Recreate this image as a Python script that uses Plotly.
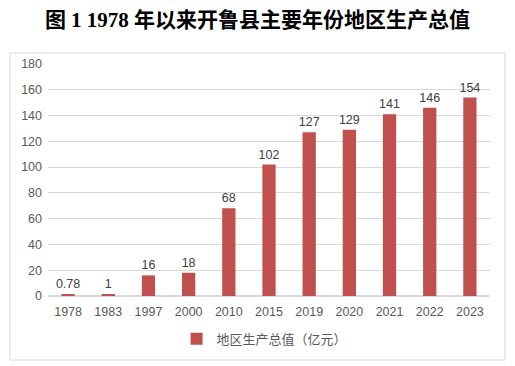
import plotly.graph_objects as go

years = ["1978", "1983", "1997", "2000", "2010", "2015", "2019", "2020", "2021", "2022", "2023"]
gdp = [0.78, 1, 16, 18, 68, 102, 127, 129, 141, 146, 154]
labels = ["0.78", "1", "16", "18", "68", "102", "127", "129", "141", "146", "154"]
series_name = "地区生产总值（亿元）"
title = "图 1 1978 年以来开鲁县主要年份地区生产总值"

fig = go.Figure()
fig.add_trace(go.Bar(
    x=years, y=gdp, name=series_name,
    marker=dict(color="#C0504D", line=dict(width=0)),
    text=labels, textposition="outside", cliponaxis=False, constraintext="none",
    textfont=dict(size=12.5, color="#404040", family="Liberation Sans, Noto Sans CJK SC"),
    width=0.33,
))

fig.update_layout(
    width=515, height=366,
    margin=dict(l=48, r=25, t=64, b=70, autoexpand=False),
    paper_bgcolor="white", plot_bgcolor="white",
    font=dict(family="Liberation Sans, Noto Sans CJK SC", color="#595959", size=12),
    title=dict(text="<b>" + title + "</b>", x=0.5, xanchor="center", y=0.945, yanchor="middle",
               automargin=False,
               font=dict(family="Liberation Serif, Noto Sans CJK SC", size=21, color="#000000")),
    uniformtext=dict(minsize=12, mode="show"),
    showlegend=True,
    legend=dict(orientation="h", x=0.49, xanchor="center", y=-0.12, yanchor="top",
                font=dict(size=13, color="#595959", family="Noto Sans CJK SC"),
                itemwidth=30),
    xaxis=dict(type="category", showgrid=False, showline=False, ticks="",
               ticklabelstandoff=6,
               tickfont=dict(size=12.5, color="#595959")),
    yaxis=dict(range=[0, 180], dtick=20, showgrid=True, gridcolor="#D9D9D9", gridwidth=1,
               zeroline=True, zerolinecolor="#D9D9D9", showline=False, ticks="",
               ticklabelstandoff=5,
               tickfont=dict(size=12.5, color="#595959")),
    bargap=0.67,
)

fig.add_shape(type="rect", xref="paper", yref="paper",
              x0=-0.086, x1=1.034, y0=-0.276, y1=1.047,
              line=dict(color="#D9D9D9", width=1), fillcolor="rgba(0,0,0,0)", layer="below")

fig.write_html("out.html", config={"displayModeBar": False},
               post_script="document.body.style.margin='0';")
